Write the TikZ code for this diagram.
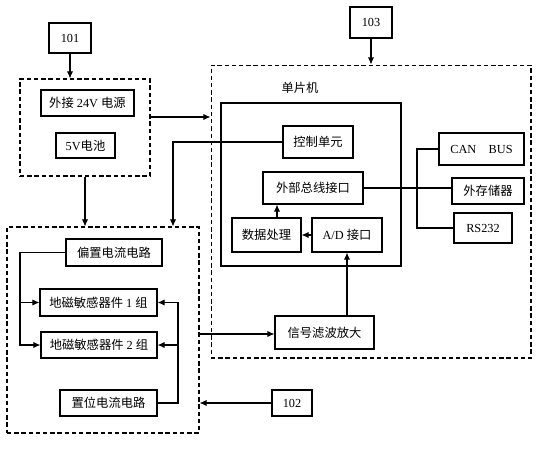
\documentclass[tikz,border=0pt]{standalone}
\usepackage{fontspec}
\setmainfont{Liberation Serif}
\newfontfamily\cjk{Noto Sans CJK SC}
\usetikzlibrary{arrows.meta}

\tikzset{
  box/.style={draw, line width=0.6pt, inner sep=0pt, font=\fontsize{7}{8}\selectfont},
  dbox/.style={draw, line width=0.6pt, dash pattern=on 2.5pt off 1.6pt, inner sep=0pt},
}

\begin{document}
\begin{tikzpicture}[x=0.02cm, y=-0.02cm, >={Latex[length=4pt,width=3.5pt]}, line width=0.6pt]
            \useasboundingbox (0,0) rectangle (547,450);
            % gestrichelte Bereiche
            \node [dbox, minimum width=2.6cm, minimum height=1.94cm] (power) at (85,127.5) {};
            \node [dbox, minimum width=6.4cm, minimum height=5.86cm] (cpu) at (371,211.5) {};
            \node [dbox, minimum width=3.84cm, minimum height=4.12cm] (sens) at (103,330) {};
            % Nummern
            \node [box, minimum width=0.84cm, minimum height=0.6cm] (n101) at (70,38) {101};
            \node [box, minimum width=0.84cm, minimum height=0.62cm] (n103) at (371,22.5) {103};
            \node [box, minimum width=0.8cm, minimum height=0.52cm] (n102) at (292,403) {102};
            % Stromversorgung
            \node [box, minimum width=1.86cm, minimum height=0.52cm] (ext) at (87.5,103) {{\cjk 外接} 24V {\cjk 电源}};
            \node [box, minimum width=1.18cm, minimum height=0.5cm] (bat) at (85.5,145.5) {5V{\cjk 电池}};
            % Mikrocontroller
            \node [box, minimum width=3.6cm, minimum height=3.26cm] (mcu) at (311,184.5) {};
            \node [font=\fontsize{7}{8}\selectfont\cjk] (mcul) at (300,88) {单片机};
            \node [box, minimum width=1.4cm, minimum height=0.64cm] (ctrl) at (318,142) {\cjk 控制单元};
            \node [box, minimum width=2cm, minimum height=0.64cm] (bus) at (313,188) {\cjk 外部总线接口};
            \node [box, minimum width=1.38cm, minimum height=0.68cm] (dsp) at (266.5,235) {\cjk 数据处理};
            \node [box, minimum width=1.4cm, minimum height=0.68cm] (adc) at (347,235) {A/D {\cjk 接口}};
            \node [box, minimum width=1.7cm, minimum height=0.64cm] (can) at (481.5,149) {CAN\quad BUS};
            \node [box, minimum width=1.44cm, minimum height=0.52cm] (mem) at (488,191) {\cjk 外存储器};
            \node [box, minimum width=1.16cm, minimum height=0.6cm] (rs) at (483,228) {RS232};
            \node [box, minimum width=1.98cm, minimum height=0.66cm] (filt) at (324.5,332.5) {\cjk 信号滤波放大};
            % Sensoren
            \node [box, minimum width=1.92cm, minimum height=0.54cm] (bias) at (114,252.5) {\cjk 偏置电流电路};
            \node [box, minimum width=2.34cm, minimum height=0.54cm] (s1) at (98.5,302.5) {{\cjk 地磁敏感器件} 1 {\cjk 组}};
            \node [box, minimum width=2.32cm, minimum height=0.52cm] (s2) at (99,345) {{\cjk 地磁敏感器件} 2 {\cjk 组}};
            \node [box, minimum width=1.94cm, minimum height=0.52cm] (set) at (108.5,403) {\cjk 置位电流电路};
            % Hilfspunkte
            \coordinate (cj) at (417,0);
            \coordinate (lb) at (20,0);
            \coordinate (rb) at (178,0);
            \coordinate (cl) at (173,0);
            % Verbindungen
            \draw [->] (n101.south) -- (n101.south |- power.north);
            \draw [->] (n103.south) -- (n103.south |- cpu.north);
            \draw [->] (n102.west) -- (n102.west -| sens.east);
            \draw [->] (power.east |- 0,117) -- (cpu.west |- 0,117);
            \draw [->] (power.south) -- (power.south |- sens.north);
            \draw [->] (ctrl.west) -| (cl |- sens.north);
            \draw [->] (sens.east |- 0,334) -- (filt.west |- 0,334);
            \draw [->] (filt.north -| adc.south) -- (adc.south);
            \draw [->] (adc.west) -- (dsp.east);
            \draw [->] ([xshift=0.21cm]dsp.north) -- ([xshift=0.21cm]dsp.north |- bus.south);
            \draw (bus.east) -- (bus.east -| mem.west);
            \draw (can.west) -- (cj |- can.west) -- (cj |- rs.west) -- (rs.west);
            \draw [->] (bias.west) -| (lb |- s2.west) -- (s2.west);
            \draw [->] (lb |- s1.west) -- (s1.west);
            \draw [->] (set.east) -| (rb |- s1.east) -- (s1.east);
            \draw [->] (rb |- s2.east) -- (s2.east);
        \end{tikzpicture}
\end{document}
